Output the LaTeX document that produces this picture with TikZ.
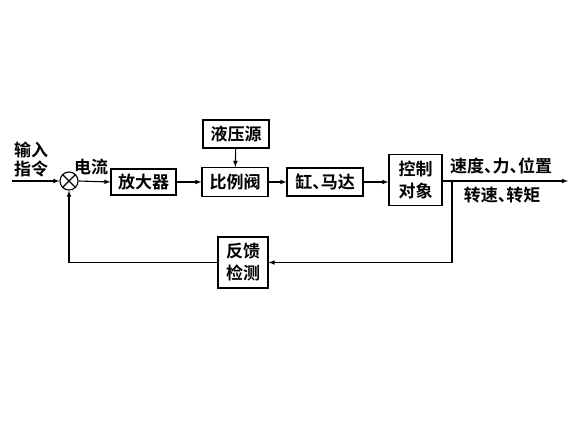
\documentclass[tikz,border=0pt]{standalone}
\usepackage{fontspec}
\newfontfamily\cjk{Noto Sans CJK SC}[BoldFont={Noto Sans CJK SC Bold}]
\newcommand\dun{\hbox to 0.5em{、\hss}}
\begin{document}
\begin{tikzpicture}[x=1pt,y=-1pt,
    blk/.style={draw,line width=1.1pt,inner sep=0pt,align=center},
    lbl/.style={inner sep=0pt,align=center},
    every node/.style={font=\cjk\bfseries\fontsize{17}{22}\selectfont},
    sig/.style={-latex,line width=1.1pt}]
  \useasboundingbox (0,0) rectangle (585,441);
  \node[draw,circle,line width=1.1pt,minimum size=18pt,inner sep=0pt] (sum) at (69,181) {};
  \draw[line width=1.1pt] (sum.north west) -- (sum.south east);
  \draw[line width=1.1pt] (sum.north east) -- (sum.south west);
  \coordinate (in) at (12,181);
  \node[lbl,align=left,font=\cjk\bfseries\fontsize{17}{19}\selectfont] (cmd) at (31,160) {输入\\指令};
  \node[lbl] (cur) at (91,167) {电流};
  \node[blk,minimum width=65pt,minimum height=26pt] (amp) at (143.5,182) {放大器};
  \node[blk,minimum width=66pt,minimum height=29pt] (valve) at (235,182) {比例阀};
  \node[blk,minimum width=66pt,minimum height=28pt] (src) at (236,134) {液压源};
  \node[blk,minimum width=76pt,minimum height=28pt] (cyl) at (325,182) {缸\dun 马达};
  \node[blk,minimum width=53pt,minimum height=51pt] (plant) at (415.5,180) {控制\\对象};
  \node[blk,minimum width=50pt,minimum height=51pt] (fb) at (243,262.5) {反馈\\检测};
  \coordinate (out) at (568,181);
  \coordinate (tap) at (452,181);
  \node[lbl] (speed) at (501,166) {速度\dun 力\dun 位置};
  \node[lbl] (torque) at (502,195) {转速\dun 转矩};
  % forward path
  \draw[sig] (in) -- (sum.west);
  \draw[sig] (sum.east) -- (amp.west);
  \draw[sig] (amp) -- (valve);
  \draw[sig] (src) -- (valve);
  \draw[sig] (valve) -- (cyl);
  \draw[sig] (cyl) -- (cyl -| plant.west);
  \draw[sig] (plant.east |- out) -- (out);
  % feedback path
  \draw[sig] (tap) |- (fb.east);
  \draw[sig] (fb.west) -| (sum.south);
\end{tikzpicture}
\end{document}
